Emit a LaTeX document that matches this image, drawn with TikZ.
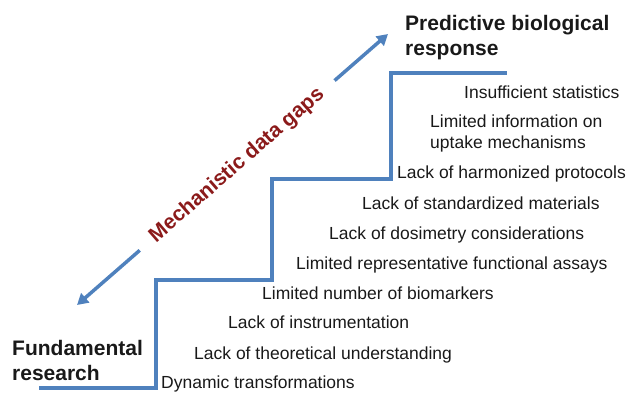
\documentclass[tikz,border=0pt]{standalone}
\usepackage{fontspec}
\setmainfont{Liberation Sans}
\usepackage{xcolor}
\definecolor{stairblue}{HTML}{4F81BD}
\definecolor{gapred}{HTML}{8B1A1A}
\usetikzlibrary{arrows.meta,positioning,calc}
\tikzset{
  lbl/.style={inner sep=0pt, align=left, text=black!90,
              font=\fontsize{17.5}{21}\selectfont},
  gap/.style={lbl, text height=12.5pt, text depth=0pt},
  head/.style={inner sep=0pt, align=left, text=black!90,
               font=\fontsize{21}{25}\selectfont\bfseries},
  stair/.style={draw=stairblue, line width=3.5pt},
  ar/.style={-{Triangle[length=11pt,width=12pt]}, draw=stairblue, line width=3.5pt},
}

\begin{document}
\begin{tikzpicture}[x=1pt, y=-1pt]
  \useasboundingbox (0,0) rectangle (629,394);
  % the staircase
  \draw[stair] (39,388) -| (156,280) -| (272,179) -| (391,73) -- (507,73);
  % gaps, one per step
  \node[gap, anchor=west] (dyn) at (161,382) {Dynamic transformations};
  \node[gap, above right=29pt and 33pt of dyn.west, anchor=west] (theo) {Lack of theoretical understanding};
  \node[gap, above right=31pt and 34pt of theo.west, anchor=west] (instr) {Lack of instrumentation};
  \node[gap, above right=29pt and 34pt of instr.west, anchor=west] (bio) {Limited number of biomarkers};
  \node[gap, above right=30pt and 34pt of bio.west, anchor=west] (assay) {Limited representative functional assays};
  \node[gap, above right=30pt and 33pt of assay.west, anchor=west] (dosi) {Lack of dosimetry considerations};
  \node[gap, above right=30pt and 33pt of dosi.west, anchor=west] (mat) {Lack of standardized materials};
  \node[gap, above right=31pt and 35pt of mat.west, anchor=west] (prot) {Lack of harmonized protocols};
  \node[lbl, above right=57pt and 33pt of prot.west, anchor=north west] (uptake) {Limited information on\\uptake mechanisms};
  \node[gap, above right=23pt and 34pt of uptake.north west, anchor=west] (stats) {Insufficient statistics};
  % both ends
  \node[head, anchor=north west] (pred) at (405,15) {Predictive biological\\response};
  \node[head, anchor=north west] (fund) at (12,340) {Fundamental\\research};
  % double arrow
  \coordinate (lo) at (77,305);
  \coordinate (hi) at (388,34);
  \path (lo) -- node[sloped, pos=0.515, inner xsep=17pt, inner ysep=2pt, text=gapred,
    font=\fontsize{21}{25}\selectfont\bfseries] (mech) {Mechanistic data gaps} (hi);
  \draw[ar] (mech) -- (hi);
  \draw[ar] (mech) -- (lo);
\end{tikzpicture}
\end{document}
